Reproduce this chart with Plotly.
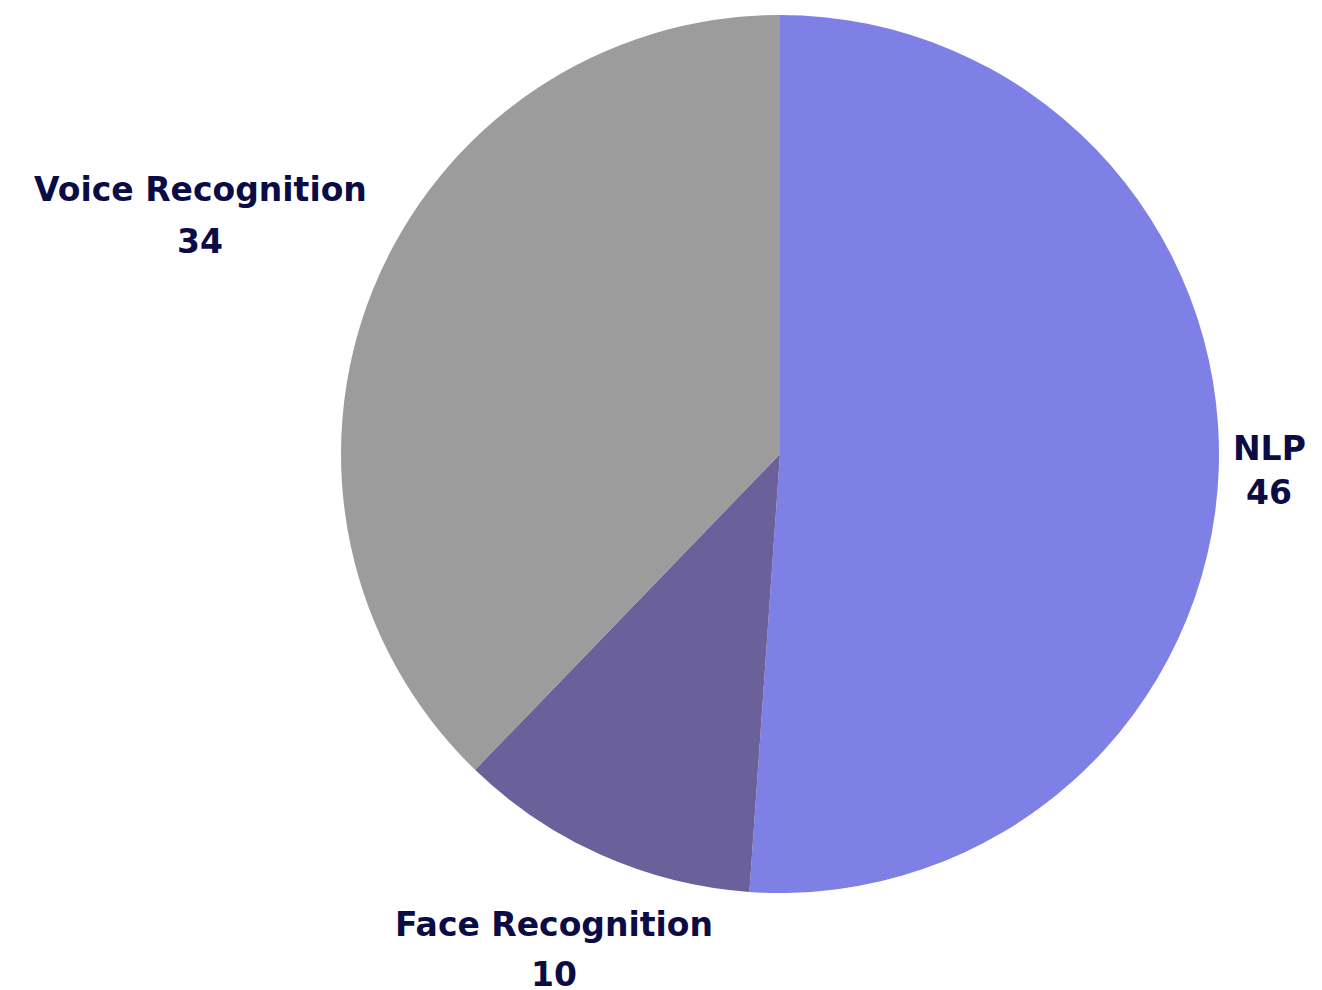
import plotly.graph_objects as go

# Share of AI application areas
categories = ["NLP", "Face Recognition", "Voice Recognition"]
values = [46, 10, 34]
colors = ["#7F80E6", "#6A609A", "#9C9C9C"]

W, H = 1322, 990
TEXT_COLOR = "#0B0B45"
FONT = "DejaVu Sans"

fig = go.Figure(
    go.Pie(
        labels=categories,
        values=values,
        sort=False,
        direction="clockwise",
        rotation=0,
        marker=dict(colors=colors, line=dict(width=0)),
        textinfo="none",
        hoverinfo="label+value",
        domain=dict(x=[341 / W, 1219 / W], y=[1 - 893 / H, 1 - 15 / H]),
        showlegend=False,
    )
)

# label placement (pixel centres of name line and value line)
label_pos = {
    "NLP": (1269, 449, 492),
    "Face Recognition": (554, 924, 974),
    "Voice Recognition": (200, 189, 241),
}

annotations = []
for name, val in zip(categories, values):
    cx, y_name, y_val = label_pos[name]
    for txt, cy in ((name, y_name), (str(val), y_val)):
        annotations.append(
            dict(
                text=txt,
                x=cx / W,
                y=1 - cy / H,
                xref="paper",
                yref="paper",
                xanchor="center",
                yanchor="middle",
                showarrow=False,
                font=dict(family=FONT, size=33, color=TEXT_COLOR, weight="bold"),
            )
        )

fig.update_layout(
    width=W,
    height=H,
    margin=dict(l=0, r=0, t=0, b=0),
    paper_bgcolor="white",
    plot_bgcolor="white",
    annotations=annotations,
)

fig.write_html("out.html")
